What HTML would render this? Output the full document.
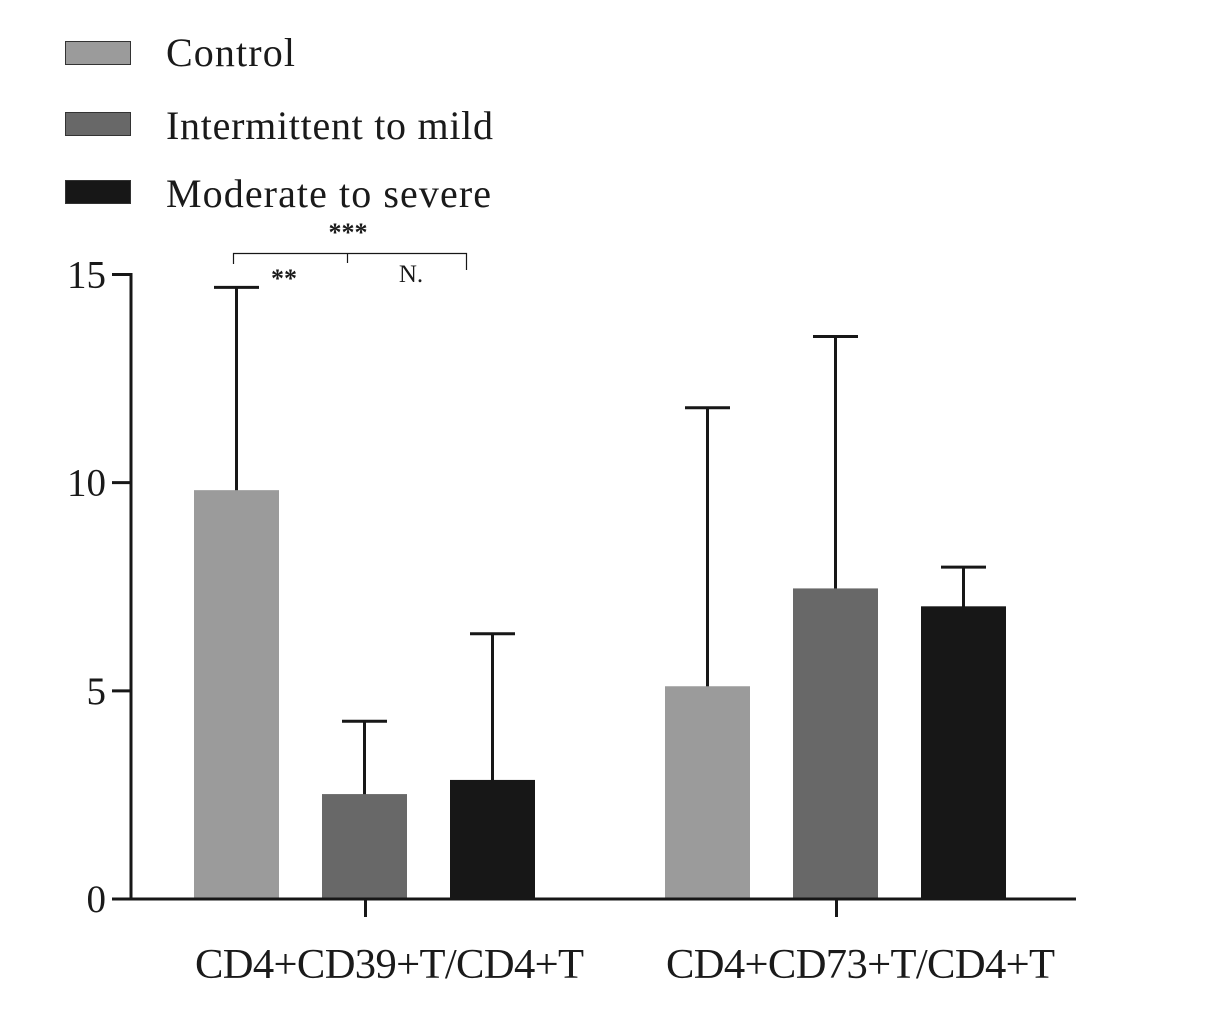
<!DOCTYPE html>
<html>
<head>
<meta charset="utf-8">
<title>CD4 T cell ratios by severity</title>
<style>
html,body{margin:0;padding:0;background:#fff;}
svg{display:block;}
text{font-family:"Liberation Serif",serif;fill:#1a1a1a;}
</style>
</head>
<body>
<svg id="chart" width="1205" height="1018" viewBox="0 0 1205 1018" xmlns="http://www.w3.org/2000/svg"></svg>
<script>
const categories = ["CD4+CD39+T/CD4+T", "CD4+CD73+T/CD4+T"];
const seriesNames = ["Control", "Intermittent to mild", "Moderate to severe"];
const seriesColors = ["#9b9b9b", "#686868", "#171717"];
const controlMeans = [9.82, 5.11];
const mildMeans = [2.52, 7.46];
const severeMeans = [2.86, 7.03];
const controlErrors = [14.69, 11.80];
const mildErrors = [4.27, 13.51];
const severeErrors = [6.37, 7.97];
const yTicks = [0, 5, 10, 15];

const svg = document.getElementById('chart');
const NS = 'http://www.w3.org/2000/svg';
const means = [controlMeans, mildMeans, severeMeans];
const errors = [controlErrors, mildErrors, severeErrors];
const INK = '#171717';

function yScale(v) { return 899 - v * (899 - 274.5) / 15; }
function groupCenter(c) { return 364.5 + c * 471; }
function barCenter(c, s) { return groupCenter(c) + (s - 1) * 128; }

function make(tag, attrs, text) {
  const el = document.createElementNS(NS, tag);
  for (const k in attrs) el.setAttribute(k, attrs[k]);
  if (text !== undefined) el.textContent = text;
  svg.appendChild(el);
  return el;
}
function line(x1, y1, x2, y2, w) {
  return make('line', { x1: x1, y1: y1, x2: x2, y2: y2, stroke: INK, 'stroke-width': w });
}

// legend
const legendSwatchY = [41, 112, 180];
const legendTextY = [66, 139, 207];
const legendTextLen = [129, 327, 325];
seriesNames.forEach(function (name, s) {
  const sw = make('rect', { x: 65.5, y: legendSwatchY[s] + 0.5, width: 65, height: 23, fill: seriesColors[s], stroke: '#333', 'stroke-width': 1 });
  
  
  const t = make('text', { x: 166, y: legendTextY[s], 'font-size': 40, textLength: legendTextLen[s], lengthAdjust: 'spacing' }, name);
  
  
});

// bars and error bars
categories.forEach(function (cat, c) {
  seriesNames.forEach(function (name, s) {
    const cx = barCenter(c, s);
    const top = yScale(means[s][c]);
    const errTop = yScale(errors[s][c]);
    const stem = line(cx, errTop, cx, top + 1, 3);
    
    
    const cap = line(cx - 22.5, errTop, cx + 22.5, errTop, 3);
    
    
    const bar = make('rect', { x: cx - 42.5, y: top, width: 85, height: yScale(0) - top, fill: seriesColors[s] });
    
    
  });
});

// y axis
const yAxis = line(131, yScale(15) - 1.5, 131, yScale(0) + 1.5, 3);


yTicks.forEach(function (v) {
  const tick = line(112, yScale(v), 131, yScale(v), 3);
  
  
  const lab = make('text', { x: 106, y: yScale(v) + 13, 'font-size': 39, 'text-anchor': 'end' }, String(v));
  
  
});

// x axis
const xAxis = line(112, yScale(0), 1076, yScale(0), 3);


categories.forEach(function (cat, c) {
  const tick = line(groupCenter(c) + 1, yScale(0), groupCenter(c) + 1, 917, 3);
  
  
  const lab = make('text', { x: 195 + c * 471, y: 978, 'font-size': 42.6, textLength: 389, lengthAdjust: 'spacing' }, cat);
  
  
});

// significance annotations
const bracket = make('path', { d: 'M233.5 264V253.5H466.5V270M347.5 253.5V263', fill: 'none', stroke: INK, 'stroke-width': 1.2 });


const sig3 = make('text', { x: 348, y: 241, 'font-size': 26, 'text-anchor': 'middle', 'font-weight': 'bold' }, '***');


const sig2 = make('text', { x: 284, y: 287, 'font-size': 26, 'text-anchor': 'middle', 'font-weight': 'bold' }, '**');


const sigN = make('text', { x: 411, y: 282, 'font-size': 25, 'text-anchor': 'middle' }, 'N.');


</script>
</body>
</html>
